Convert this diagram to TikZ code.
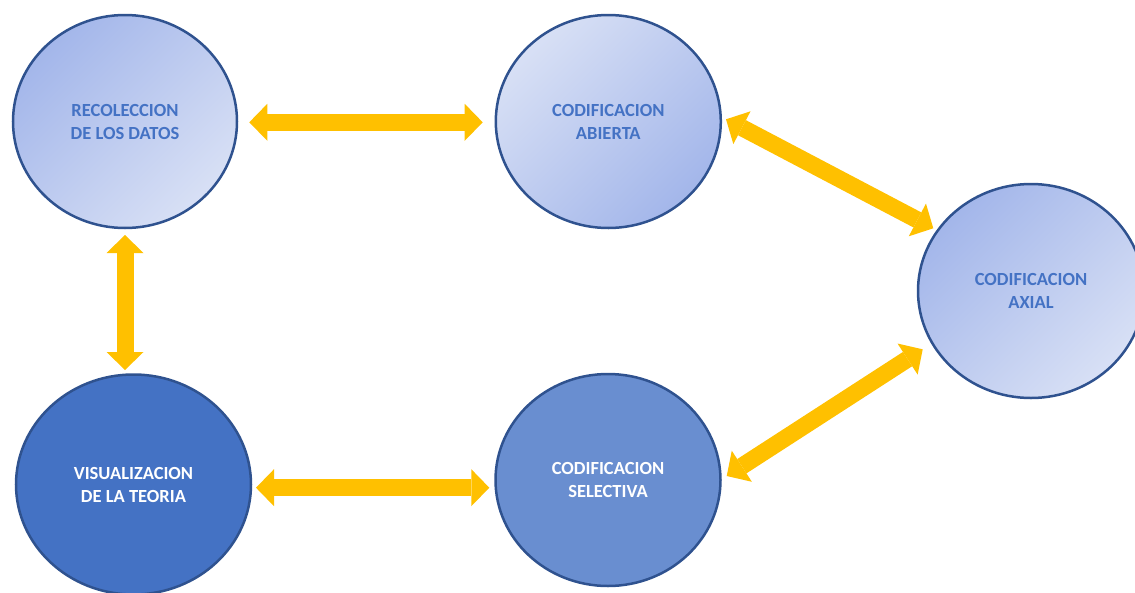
\documentclass[tikz,border=0pt]{standalone}
\usepackage{fontspec}
\setmainfont{Carlito}
\usetikzlibrary{shapes.geometric,arrows.meta}
\definecolor{bdr}{HTML}{2F528F}
\definecolor{txtblue}{HTML}{4472C4}
\definecolor{lightA}{HTML}{A3B6EA}
\definecolor{lightB}{HTML}{D8E0F5}
\definecolor{midblue}{HTML}{698ED0}
\definecolor{darkblue}{HTML}{4472C4}
\definecolor{arrowyellow}{HTML}{FFC000}
\begin{document}
\begin{tikzpicture}[x=1pt,y=-1pt,
  bub/.style={ellipse, draw=bdr, line width=2.5pt, align=center, inner sep=0pt,
    font=\fontsize{18.5}{23}\selectfont\bfseries},
  darkTL/.style={top color=lightA, bottom color=lightB, shading angle=45, text=txtblue},
  lightTL/.style={top color=lightB, bottom color=lightA, shading angle=45, text=txtblue},
  dbl/.style={draw=arrowyellow, line width=17pt,
    {Triangle[width=37pt,length=18pt,line width=0pt,fill=arrowyellow]}-{Triangle[width=37pt,length=18pt,line width=0pt,fill=arrowyellow]}}
]
\useasboundingbox (0,0) rectangle (1135,592);
\clip (0,0) rectangle (1135,592);

\node[bub, darkTL, minimum width=224, minimum height=213] (e1) at (125,121.5) {RECOLECCION\\DE LOS DATOS};
\node[bub, lightTL, minimum width=225, minimum height=213] (e2) at (608.3,121.5) {CODIFICACION\\ABIERTA};
\node[bub, darkTL, minimum width=226, minimum height=214] (e3) at (1031,291) {CODIFICACION\\AXIAL};
\node[bub, fill=midblue, text=white, minimum width=225, minimum height=212] (e4) at (608,480) {CODIFICACION\\SELECTIVA};
\node[bub, fill=darkblue, text=white, minimum width=235, minimum height=220] (e5) at (133.5,484.5) {VISUALIZACION\\DE LA TEORIA};

\coordinate (a1s) at (249.3,122.3);
\coordinate (a1e) at (482.7,122.3);
\coordinate (a2s) at (125,235);
\coordinate (a2e) at (125,370);
\coordinate (a3s) at (256,487.7);
\coordinate (a3e) at (489.3,487.7);
\coordinate (a4s) at (726,119.3);
\coordinate (a4e) at (933.3,228.3);
\coordinate (a5s) at (922.7,349.3);
\coordinate (a5e) at (726.7,476);

\draw[dbl] (a1s) -- (a1e);
\draw[dbl] (a2s) -- (a2e);
\draw[dbl] (a3s) -- (a3e);
\draw[dbl] (a4s) -- (a4e);
\draw[dbl] (a5s) -- (a5e);
\end{tikzpicture}
\end{document}
